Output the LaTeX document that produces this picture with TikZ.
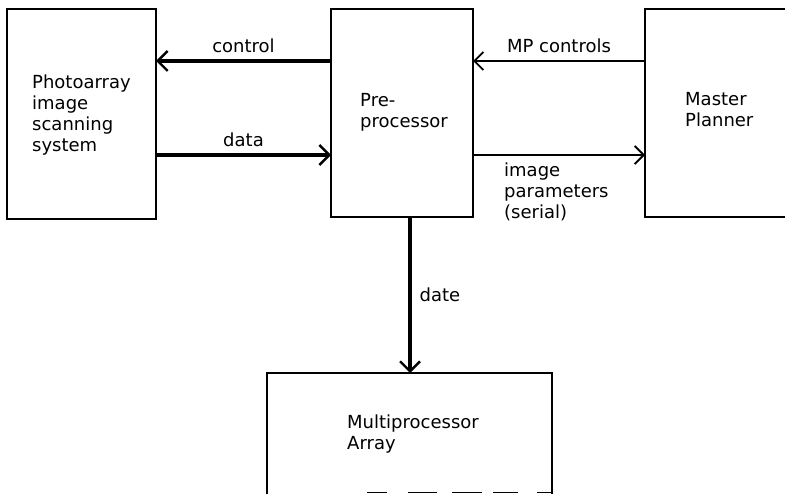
\documentclass[tikz,border=0pt]{standalone}
\usepackage{fontspec}
\setmainfont{DejaVu Sans}
\usetikzlibrary{arrows.meta}
\begin{document}
\begin{tikzpicture}[x=1pt,y=-1pt,
  box/.style={draw, line width=1.8pt, inner sep=0pt, outer sep=0pt},
  lbl/.style={font=\fontsize{18}{21}\selectfont, align=left, inner sep=0pt},
  bus/.style={line width=3.2pt, -{Straight Barb[length=10pt,width=20pt,line width=2.4pt]}},
  link/.style={line width=1.9pt, -{Straight Barb[length=9pt,width=18pt,line width=1.9pt]}}
]
\useasboundingbox (0,0) rectangle (785,494);
\clip (0,0) rectangle (785,494);

% blocks
\node[box, minimum width=149pt, minimum height=210pt] (scan)   at (81.5,114) {};
\node[box, minimum width=142pt, minimum height=208pt] (pre)    at (402,113) {};
\node[box, minimum width=175pt, minimum height=208pt] (master) at (732.5,113) {};
\node[box, minimum width=285pt, minimum height=137pt] (multi)  at (409.5,441.5) {};

% block texts
\node[lbl, anchor=north west] (tscan)   at (32,75)  {Photoarray\\image\\scanning\\system};
\node[lbl, anchor=north west] (tpre)    at (360,93) {Pre-\\processor};
\node[lbl, anchor=north west] (tmaster) at (685,92) {Master\\Planner};
\node[lbl, anchor=north west] (tmulti)  at (347,415) {Multiprocessor\\Array};

% row levels of the horizontal connectors
\coordinate (r1) at (0,61);
\coordinate (r2) at (0,155);

% connectors
\draw[bus]  (pre.west |- r1) -- (scan.east |- r1)
  node[lbl, midway, above=7pt] (lcontrol) {control};
\draw[bus]  (scan.east |- r2) -- (pre.west |- r2)
  node[lbl, midway, above=7pt] (ldata) {data};
\draw[link] (master.west |- r1) -- (pre.east |- r1)
  node[lbl, midway, above=7pt] (lmp) {MP controls};
\draw[link] (pre.east |- r2) -- (master.west |- r2);
\node[lbl, anchor=north west] (limg) at (504,163) {image\\parameters\\(serial)};
\draw[bus]  (pre.south -| 410,0) -- (multi.north -| 410,0)
  node[lbl, pos=0.5, right=8pt] (ldate) {date};

% broken fragment of the lower edge
\draw[line width=1.5pt,
  dash pattern=on 20pt off 21pt on 29pt off 15pt on 30pt off 11pt on 25pt off 19pt on 16pt off 20pt]
  (367,492.5) -- (553,492.5);
\end{tikzpicture}
\end{document}
